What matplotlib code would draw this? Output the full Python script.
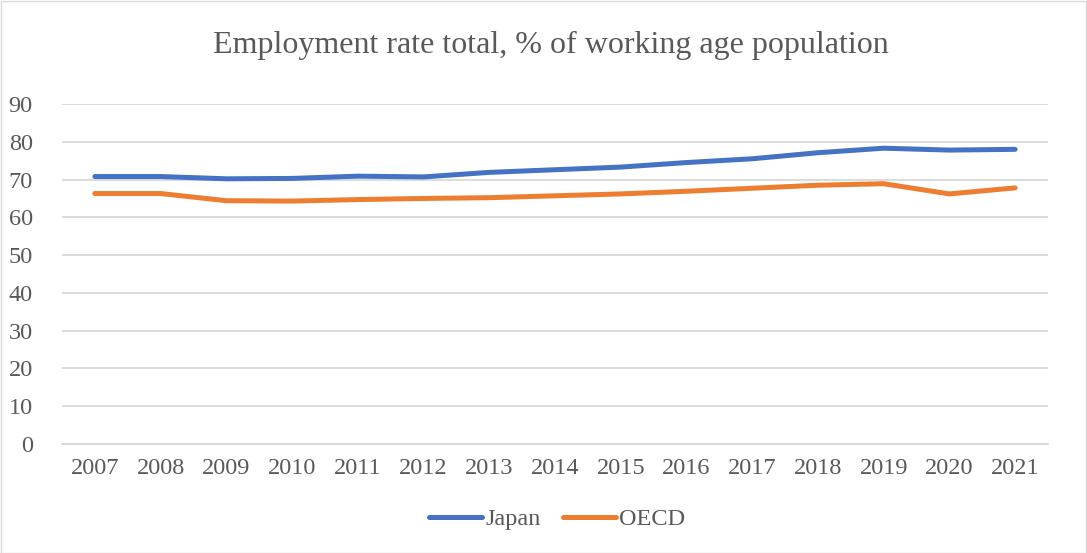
import matplotlib
matplotlib.use('Agg')
import matplotlib.pyplot as plt
from matplotlib.patches import Rectangle

# employment rate, % of working age population
years = ['2007', '2008', '2009', '2010', '2011', '2012', '2013', '2014',
         '2015', '2016', '2017', '2018', '2019', '2020', '2021']
japan = [70.8, 70.8, 70.2, 70.3, 70.9, 70.7, 71.9, 72.6,
         73.3, 74.5, 75.5, 77.1, 78.3, 77.8, 78.0]
oecd = [66.3, 66.3, 64.4, 64.3, 64.7, 65.0, 65.2, 65.7,
        66.2, 66.9, 67.7, 68.5, 68.9, 66.2, 67.8]
yticks = [0, 10, 20, 30, 40, 50, 60, 70, 80, 90]

plt.rcParams['font.family'] = ['Liberation Serif', 'DejaVu Serif']
grey = '#595959'

fig = plt.figure(figsize=(10.87, 5.53), dpi=100)
ax = fig.add_axes([62/1087, 1-444/553, (1048-62)/1087, (444-104)/553])

x = range(len(years))
ax.plot(x, japan, color='#4472C4', lw=3.6, solid_capstyle='round',
        solid_joinstyle='round', label='Japan')
ax.plot(x, oecd, color='#ED7D31', lw=3.6, solid_capstyle='round',
        solid_joinstyle='round', label='OECD')

ax.set_xlim(-0.5, len(years)-0.5)
ax.set_ylim(0, 90)
ax.set_yticks(yticks)
ax.set_xticks(list(x))
ax.set_xticklabels(years)
ax.grid(axis='y', color='#D9D9D9', lw=1.3)
ax.set_axisbelow(True)
for s in ['left', 'right', 'top']:
    ax.spines[s].set_visible(False)
ax.spines['bottom'].set_color('#D9D9D9')
ax.spines['bottom'].set_linewidth(1.3)
ax.tick_params(axis='both', length=0, labelsize=17.5, colors=grey)
ax.tick_params(axis='x', pad=10)
ax.tick_params(axis='y', pad=21)

fig.text(551/1087, 1-45/553, 'Employment rate total, % of working age population',
         ha='center', va='center', fontsize=23, color=grey)

leg = fig.legend(loc='center', bbox_to_anchor=(557/1087, 1-519/553), ncol=2,
                 frameon=False, fontsize=17.5, handlelength=2.2, handletextpad=0.12,
                 columnspacing=0.9)
for t in leg.get_texts():
    t.set_color(grey)

fig.patches.append(Rectangle((0.5/1087, 0.5/553), 1-1.5/1087, 1-1.5/553,
                             transform=fig.transFigure, fill=False,
                             edgecolor='#D9D9D9', lw=1.0))

fig.savefig('out.png', dpi=100)
